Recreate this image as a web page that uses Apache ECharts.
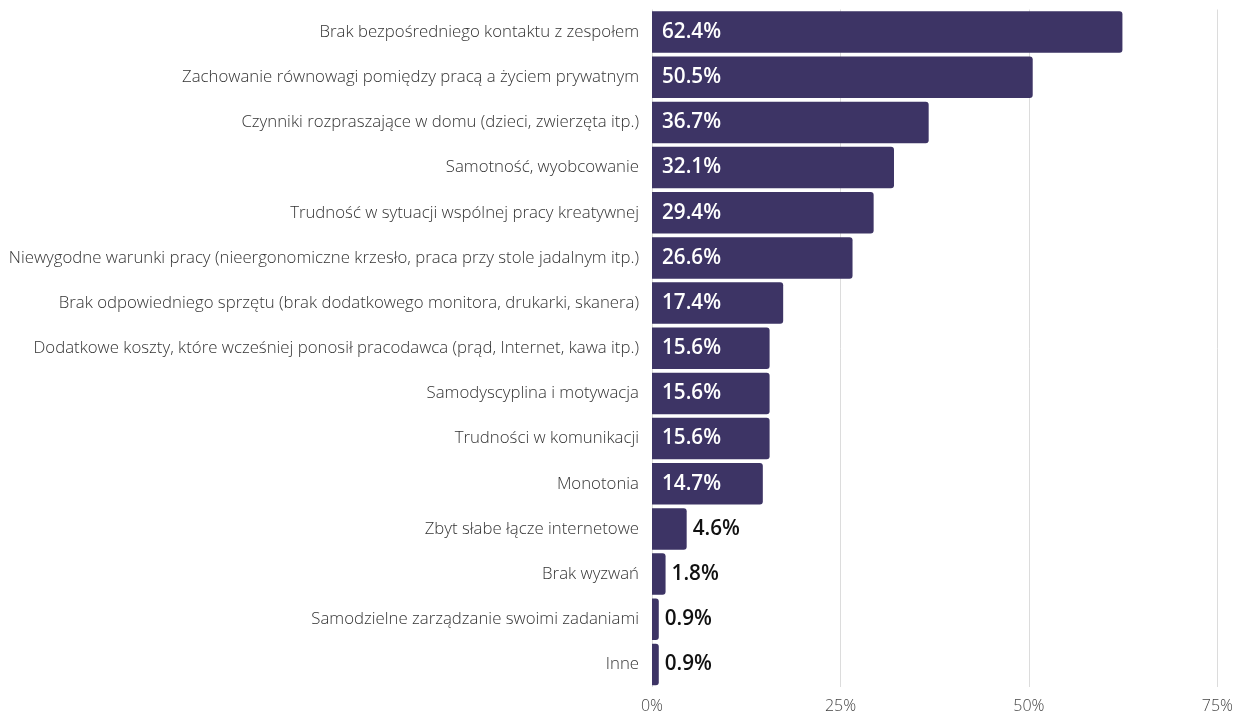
<!DOCTYPE html>
<html>
<head>
<meta charset="utf-8">
<style>
  html, body { margin: 0; padding: 0; background: #fff; }
  #chart { width: 1236px; height: 714px; }
</style>
<script src="https://cdn.jsdelivr.net/npm/echarts@6/dist/echarts.min.js"></script>
</head>
<body>
<div id="chart"></div>
<script>
// Survey answers, top to bottom
const categories = [
  'Brak bezpośredniego kontaktu z zespołem',
  'Zachowanie równowagi pomiędzy pracą a życiem prywatnym',
  'Czynniki rozpraszające w domu (dzieci, zwierzęta itp.)',
  'Samotność, wyobcowanie',
  'Trudność w sytuacji wspólnej pracy kreatywnej',
  'Niewygodne warunki pracy (nieergonomiczne krzesło, praca przy stole jadalnym itp.)',
  'Brak odpowiedniego sprzętu (brak dodatkowego monitora, drukarki, skanera)',
  'Dodatkowe koszty, które wcześniej ponosił pracodawca (prąd, Internet, kawa itp.)',
  'Samodyscyplina i motywacja',
  'Trudności w komunikacji',
  'Monotonia',
  'Zbyt słabe łącze internetowe',
  'Brak wyzwań',
  'Samodzielne zarządzanie swoimi zadaniami',
  'Inne'
];
const values = [62.4, 50.5, 36.7, 32.1, 29.4, 26.6, 17.4, 15.6, 15.6, 15.6, 14.7, 4.6, 1.8, 0.9, 0.9];
const xTicks = [0, 25, 50, 75];

const FONT = '"Open Sans", "Noto Sans", sans-serif';
const BAR = '#3d3465';

// short bars carry their label outside, to the right
const barData = values.map(v => {
  const inside = v >= 10;
  return {
    value: v,
    label: {
      show: true,
      position: inside ? 'insideLeft' : 'right',
      distance: inside ? 10 : 6,
      color: inside ? '#ffffff' : '#111111',
      fontFamily: FONT,
      fontWeight: 600,
      fontSize: 20.7,
      formatter: p => p.value.toFixed(1) + '%'
    }
  };
});

const chart = echarts.init(document.getElementById('chart'), null, { renderer: 'canvas' });
chart.setOption({
  animation: false,
  grid: { left: 652, right: 18, top: 9.5, bottom: 25.5, containLabel: false },
  xAxis: {
    type: 'value',
    min: xTicks[0],
    max: xTicks[xTicks.length - 1],
    interval: 25,
    axisLine: { show: false },
    axisTick: { show: false },
    splitLine: { show: true, lineStyle: { color: '#dcdcdc', width: 1 } },
    axisLabel: {
      formatter: v => v + '%',
      color: '#444444',
      fontFamily: FONT,
      fontWeight: 300,
      fontSize: 16,
      margin: 11
    }
  },
  yAxis: {
    type: 'category',
    inverse: true,
    data: categories,
    axisLine: { show: false },
    axisTick: { show: false },
    splitLine: { show: false },
    axisLabel: {
      color: '#333333',
      fontFamily: FONT,
      fontWeight: 300,
      fontSize: 16.8,
      margin: 13
    }
  },
  series: [{
    type: 'bar',
    data: barData,
    barCategoryGap: '8%',
    itemStyle: { color: BAR, borderRadius: [0, 3, 3, 0] }
  }]
});
</script>
</body>
</html>
